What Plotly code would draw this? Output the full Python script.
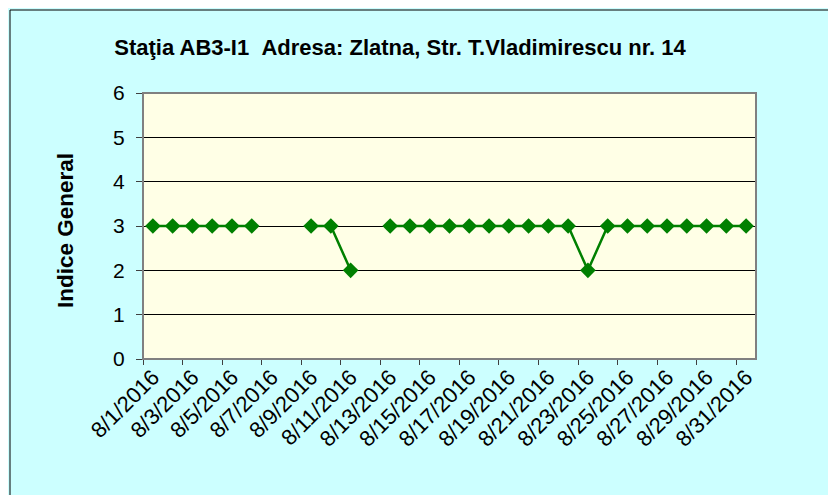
import plotly.graph_objects as go

# ---- data ----
dates = ["8/1/2016", "8/2/2016", "8/3/2016", "8/4/2016", "8/5/2016", "8/6/2016",
         "8/7/2016", "8/8/2016", "8/9/2016", "8/10/2016", "8/11/2016", "8/12/2016",
         "8/13/2016", "8/14/2016", "8/15/2016", "8/16/2016", "8/17/2016", "8/18/2016",
         "8/19/2016", "8/20/2016", "8/21/2016", "8/22/2016", "8/23/2016", "8/24/2016",
         "8/25/2016", "8/26/2016", "8/27/2016", "8/28/2016", "8/29/2016", "8/30/2016",
         "8/31/2016"]
indice = [3, 3, 3, 3, 3, 3,
          None, None, 3, 3, 2, None,
          3, 3, 3, 3, 3, 3,
          3, 3, 3, 3, 2, 3,
          3, 3, 3, 3, 3, 3,
          3]
y_ticks = [0, 1, 2, 3, 4, 5, 6]
title_text = "Staţia AB3-I1 \u00a0Adresa: Zlatna, Str. T.Vladimirescu nr. 14"
y_title = "Indice General"

# ---- layout constants (pixels, relative to the figure; page body adds 8px) ----
W, H = 836, 495
L, R, T, B = 135, 88, 85, 144
PW, PH = W - L - R, H - T - B


def px_x(p):
    return (p - L) / PW


def px_y(p):
    return 1 - (p - T) / PH


FONT = "Arial, 'Liberation Sans', sans-serif"
xpos = list(range(len(dates)))

fig = go.Figure()
fig.add_trace(go.Scatter(
    x=xpos, y=indice, mode="lines+markers",
    line=dict(color="#008000", width=2.5),
    marker=dict(symbol="diamond", size=12, color="#008000"),
    connectgaps=False, showlegend=False, hoverinfo="skip",
))

fig.update_layout(
    width=W, height=H,
    margin=dict(l=L, r=R, t=T, b=B),
    paper_bgcolor="#CCFFFF",
    plot_bgcolor="#FFFFE6",
    font=dict(family=FONT, color="black"),
    showlegend=False,
    xaxis=dict(
        range=[-0.5, len(dates) - 0.5],
        tickmode="array",
        tickvals=xpos[::2],
        ticktext=dates[::2],
        tickangle=-45,
        ticks="",
        tickfont=dict(size=22, family=FONT, color="black"),
        showgrid=False, zeroline=False,
        showline=False,
        minor=dict(tickmode="linear", tick0=-0.5, dtick=2, ticks="outside",
                   ticklen=5, tickcolor="#404040", tickwidth=1, showgrid=False),
    ),
    yaxis=dict(
        range=[0, 6],
        tickmode="array",
        tickvals=y_ticks,
        ticks="outside", ticklen=6, tickcolor="#404040", tickwidth=1,
        ticklabelstandoff=7,
        tickfont=dict(size=21, family=FONT, color="black"),
        showgrid=True, gridcolor="black", gridwidth=1,
        zeroline=False, showline=False,
    ),
    title=dict(
        text="<b>" + title_text + "</b>",
        x=392 / W, xref="container", xanchor="center",
        y=1 - 39 / H, yref="container", yanchor="middle",
        font=dict(size=22, family=FONT, color="black"),
    ),
    shapes=[
        # chart area border
        dict(type="rect", xref="paper", yref="paper", layer="above",
             x0=px_x(2), x1=px_x(W + 20), y0=px_y(H + 20), y1=px_y(2),
             fillcolor="rgba(0,0,0,0)", line=dict(color="black", width=1)),
        # plot area border
        dict(type="rect", xref="paper", yref="paper", layer="above",
             x0=0, x1=1, y0=0, y1=1,
             fillcolor="rgba(0,0,0,0)", line=dict(color="#808080", width=2)),
    ],
    annotations=[
        dict(text="<b>" + y_title + "</b>", textangle=-90,
             xref="paper", yref="paper", x=px_x(57), y=px_y(223),
             xanchor="center", yanchor="middle", showarrow=False,
             font=dict(size=22.5, family=FONT, color="black")),
    ],
)

fig.write_html("out.html")
